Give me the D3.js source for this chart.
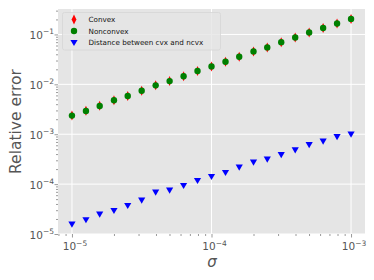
<!DOCTYPE html>
<html lang="en">
<head>
<meta charset="UTF-8">
<title>Relative error</title>
<script src="https://d3js.org/d3.v7.min.js"></script>
<style>
  body { margin: 0; background: #fff; }
  text { font-family: "DejaVu Sans", sans-serif; }
</style>
</head>
<body>
<div id="chart"></div>
<script>
// ---------------------------- data ----------------------------
var sigma = [1.0e-5, 1.26e-5, 1.58e-5, 2.0e-5, 2.51e-5, 3.16e-5, 3.98e-5, 5.01e-5, 6.31e-5, 7.94e-5,
             1.0e-4, 1.26e-4, 1.58e-4, 2.0e-4, 2.51e-4, 3.16e-4, 3.98e-4, 5.01e-4, 6.31e-4, 7.94e-4, 1.0e-3];
var convex = [2.38e-3, 2.94e-3, 3.70e-3, 4.80e-3, 5.85e-3, 7.45e-3, 9.55e-3, 1.16e-2, 1.45e-2, 1.85e-2,
              2.29e-2, 2.83e-2, 3.56e-2, 4.57e-2, 5.5e-2, 7.0e-2, 8.7e-2, 0.11, 0.135, 0.166, 0.205];
var nonconvex = [2.36e-3, 2.92e-3, 3.68e-3, 4.79e-3, 5.83e-3, 7.45e-3, 9.55e-3, 1.16e-2, 1.45e-2, 1.85e-2,
                 2.29e-2, 2.83e-2, 3.56e-2, 4.57e-2, 5.5e-2, 7.0e-2, 8.7e-2, 0.11, 0.135, 0.166, 0.205];
var distance = [1.58e-5, 1.93e-5, 2.51e-5, 2.96e-5, 3.73e-5, 4.79e-5, 6.92e-5, 7.59e-5, 9.38e-5, 1.18e-4,
                1.42e-4, 1.71e-4, 2.19e-4, 2.75e-4, 3.16e-4, 3.91e-4, 4.85e-4, 6.19e-4, 7.24e-4, 8.95e-4, 1.0e-3];
var xTicks = [-5, -4, -3];
var yTicks = [-5, -4, -3, -2, -1];
var legendLabels = ["Convex", "Nonconvex", "Distance between cvx and ncvx"];

// ---------------------------- layout ----------------------------
var W = 374, H = 280;
var pL = 58, pT = 9, pR = 365, pB = 234;

var svg = d3.select("#chart").append("svg").attr("width", W).attr("height", H);

var x = d3.scaleLog().domain([Math.pow(10, -5.1), Math.pow(10, -2.9)]).range([pL, pR]);
var y = d3.scaleLog().domain([Math.pow(10, -5.0), Math.pow(10, -0.49)]).range([pB, pT]);

// fond gris style ggplot
svg.append("rect").attr("x", pL).attr("y", pT)
   .attr("width", pR - pL).attr("height", pB - pT).attr("fill", "#e5e5e5");

// grille
svg.selectAll(".gx").data(xTicks).enter().append("line")
   .attr("x1", d => x(Math.pow(10, d))).attr("x2", d => x(Math.pow(10, d)))
   .attr("y1", pT).attr("y2", pB).attr("stroke", "#fff").attr("stroke-width", 1);
svg.selectAll(".gy").data(yTicks).enter().append("line")
   .attr("x1", pL).attr("x2", pR)
   .attr("y1", d => y(Math.pow(10, d))).attr("y2", d => y(Math.pow(10, d)))
   .attr("stroke", "#fff").attr("stroke-width", 1);

// axes (ticks majeurs + mineurs)
function minors(lo, hi) {
  var out = [];
  for (var e = lo; e < hi; e++)
    for (var m = 2; m < 10; m++) out.push(m * Math.pow(10, e));
  return out;
}
var xMin = minors(-6, -2).filter(v => v >= x.domain()[0] && v <= x.domain()[1]);
var yMin = minors(-5, 0).filter(v => v >= y.domain()[0] && v <= y.domain()[1]);

var gx = svg.append("g").attr("transform", "translate(0," + pB + ")");
gx.call(d3.axisBottom(x).tickValues(xMin).tickSize(2).tickFormat(""));
gx.append("g").call(d3.axisBottom(x).tickValues(xTicks.map(d => Math.pow(10, d))).tickSize(3.5).tickFormat(""));
gx.selectAll(".domain").remove();
gx.selectAll("line").attr("stroke", "#555").attr("stroke-width", 0.6);

var gy = svg.append("g").attr("transform", "translate(" + pL + ",0)");
gy.call(d3.axisLeft(y).tickValues(yMin).tickSize(2).tickFormat(""));
gy.append("g").call(d3.axisLeft(y).tickValues(yTicks.map(d => Math.pow(10, d))).tickSize(3.5).tickFormat(""));
gy.selectAll(".domain").remove();
gy.selectAll("line").attr("stroke", "#555").attr("stroke-width", 0.6);

// labels des ticks en 10^n
function powLabel(g, e, px, py, anchor) {
  var t = g.append("text").attr("x", px).attr("y", py).attr("text-anchor", anchor)
           .attr("fill", "#555").style("font-size", "10.5px");
  t.append("tspan").text("10");
  t.append("tspan").attr("dy", -4.5).style("font-size", "7.5px").text("\u2212" + Math.abs(e));
}
xTicks.forEach(e => powLabel(svg, e, x(Math.pow(10, e)) + 3, 250, "middle"));
yTicks.forEach(e => powLabel(svg, e, 54, y(Math.pow(10, e)) + 4.5, "end"));

// titres des axes
svg.append("text").attr("x", 212).attr("y", 267).attr("text-anchor", "middle")
   .attr("fill", "#555").style("font-size", "15px").style("font-style", "italic").text("\u03c3");
svg.append("text").attr("transform", "translate(21," + ((pT + pB) / 2) + ") rotate(-90)")
   .attr("text-anchor", "middle").attr("fill", "#555").style("font-size", "15.5px").text("Relative error");

// marqueurs
var diamond = "M0,-5L2.4,0L0,5L-2.4,0Z";
var tri = "M-3.6,-2.6L3.6,-2.6L0,3.6Z";

svg.selectAll(".cvx").data(sigma).enter().append("path")
   .attr("d", diamond).attr("fill", "red")
   .attr("transform", (d, i) => "translate(" + x(d) + "," + y(convex[i]) + ")");
svg.selectAll(".ncvx").data(sigma).enter().append("circle")
   .attr("cx", d => x(d)).attr("cy", (d, i) => y(nonconvex[i])).attr("r", 3.2)
   .attr("fill", "green");
svg.selectAll(".dist").data(sigma).enter().append("path")
   .attr("d", tri).attr("fill", "blue")
   .attr("transform", (d, i) => "translate(" + x(d) + "," + y(distance[i]) + ")");

// légende
var lg = svg.append("g");
lg.append("rect").attr("x", 62.5).attr("y", 12.5).attr("width", 158).attr("height", 37.5)
  .attr("rx", 2).attr("fill", "#e5e5e5").attr("fill-opacity", 0.8).attr("stroke", "#d6d6d6").attr("stroke-width", 0.8);
var rowY = [19.5, 31, 42.5];
lg.append("path").attr("d", diamond).attr("fill", "red").attr("transform", "translate(74," + rowY[0] + ")");
lg.append("circle").attr("cx", 74).attr("cy", rowY[1]).attr("r", 3.2).attr("fill", "green");
lg.append("path").attr("d", tri).attr("fill", "blue").attr("transform", "translate(74," + rowY[2] + ")");
legendLabels.forEach((t, i) => {
  lg.append("text").attr("x", 88.5).attr("y", rowY[i] + 2.5).attr("fill", "#111")
    .style("font-size", "7.2px").text(t);
});
</script>
</body>
</html>
